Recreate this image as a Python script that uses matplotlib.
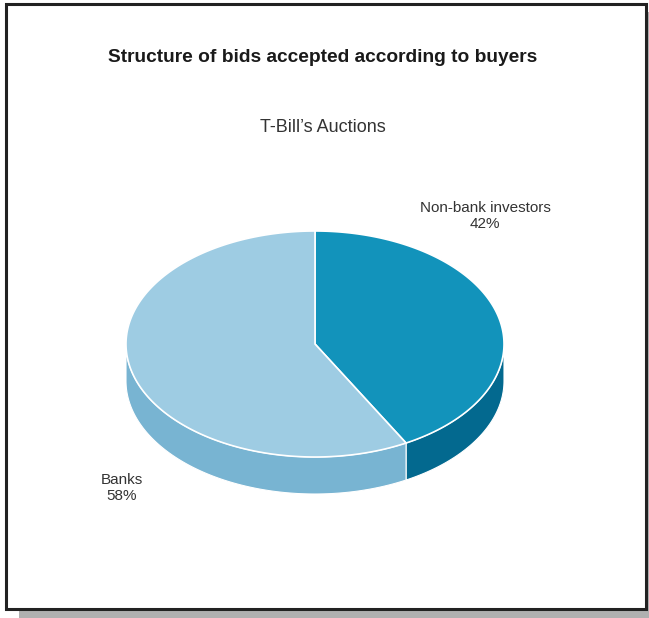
import numpy as np
import matplotlib
matplotlib.use("Agg")
import matplotlib.pyplot as plt
from matplotlib.patches import Rectangle

labels = ['Non-bank investors', 'Banks']
values = [42, 58]
top_colors = ['#1293bb', '#9ecce3']
side_colors = ['#03698f', '#78b4d2']

title = 'Structure of bids accepted according to buyers'
subtitle = 'T-Bill\u2019s Auctions'

fig = plt.figure(figsize=(6.49, 6.18), dpi=100)
ax = fig.add_axes([0, 0, 1, 1])
ax.set_xlim(0, 649)
ax.set_ylim(618, 0)
ax.axis('off')

# frame with drop shadow
ax.add_patch(Rectangle((19, 12), 632, 610, facecolor='#b0b0b0', edgecolor='none', zorder=0))
ax.add_patch(Rectangle((6, 4), 640, 605, facecolor='white', edgecolor='#222222', lw=2.2, zorder=1))

ax.text(323, 57, title, ha='center', va='center', fontsize=13.8, fontweight='bold',
        family='Liberation Sans', color='#1a1a1a', zorder=5)
ax.text(323, 127, subtitle, ha='center', va='center', fontsize=13,
        family='Liberation Sans', color='#333333', zorder=5)

# pseudo-3d pie
cx, cy, rx, ry, depth = 315, 344, 189, 113, 37
fracs = np.array(values) / sum(values)
ends = 90 - 360 * np.cumsum(fracs)
starts = np.concatenate([[90], ends[:-1]])


def ell(t, dy=0):
    r = np.radians(t)
    return cx + rx * np.cos(r), cy - ry * np.sin(r) + dy


# side walls (front half only)
for s, e, c in zip(starts, ends, side_colors):
    for lo, hi in [(-180, 0), (-540, -360)]:
        a, b = max(e, lo), min(s, hi)
        if a >= b:
            continue
        t = np.linspace(b, a, 200)
        x1, y1 = ell(t)
        x2, y2 = ell(t[::-1], depth)
        ax.fill(np.r_[x1, x2], np.r_[y1, y2], color=c, ec='white', lw=0.8, zorder=2)

# top faces
for s, e, c in zip(starts, ends, top_colors):
    t = np.linspace(s, e, 300)
    x, y = ell(t)
    ax.fill(np.r_[cx, x, cx], np.r_[cy, y, cy], color=c, ec='white', lw=1.2, zorder=3)

ax.text(485, 216, f'{labels[0]}\n{values[0]}%', ha='center', va='center', fontsize=11,
        family='Liberation Sans', color='#333333', linespacing=1.1, zorder=5)
ax.text(122, 488, f'{labels[1]}\n{values[1]}%', ha='center', va='center', fontsize=11,
        family='Liberation Sans', color='#333333', linespacing=1.1, zorder=5)

fig.savefig('out.png', dpi=100)
